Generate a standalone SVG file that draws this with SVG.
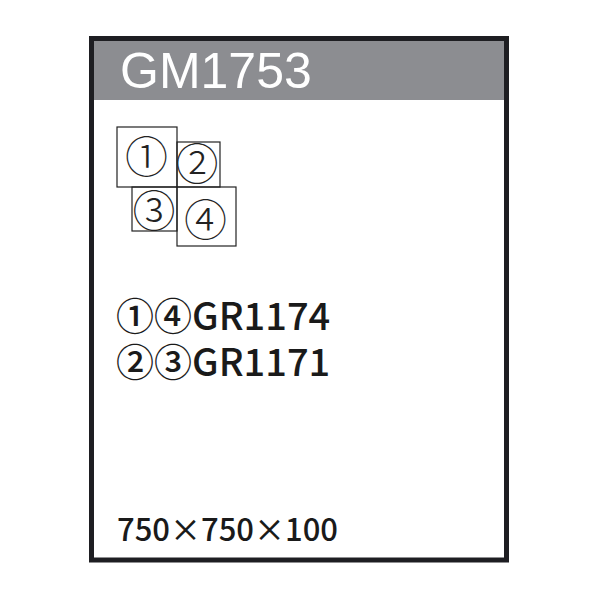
<svg xmlns="http://www.w3.org/2000/svg" width="600" height="600" viewBox="0 0 600 600">
<style>
.box{fill:none;stroke:#222;stroke-width:1.2}
.num{font-family:"Noto Sans CJK JP","DejaVu Sans",sans-serif;fill:#222;text-anchor:middle;font-size:43px;font-weight:300}
.lbl{font-family:"Noto Sans CJK JP","Noto Sans",sans-serif;fill:#1a1a1a;font-weight:500}
</style>
<rect x="0" y="0" width="600" height="600" fill="#ffffff"/>
<g id="frame">
<rect x="91.5" y="38.5" width="415" height="521.5" fill="#ffffff" stroke="#1e1e22" stroke-width="5"/>
<rect x="94" y="41" width="410" height="59" fill="#8c8d91"/>
<text x="120" y="88" font-family="Liberation Sans, Arial, sans-serif" font-size="50" fill="#ffffff">GM1753</text>
</g>
<g id="tile1">
<rect class="box" x="117" y="127" width="60" height="60"/>
<text class="num" x="146.5" y="172.5">①</text>
</g>
<g id="tile2">
<rect class="box" x="177" y="142" width="43" height="45"/>
<text class="num" x="197" y="180">②</text>
</g>
<g id="tile3">
<rect class="box" x="132" y="187" width="45" height="44"/>
<text class="num" x="154" y="227">③</text>
</g>
<g id="tile4">
<rect class="box" x="177" y="187" width="59" height="59"/>
<text class="num" x="205.5" y="236">④</text>
</g>
<g id="labels">
<text class="lbl" x="116" y="330" font-size="38">①④GR1174</text>
<text class="lbl" x="116" y="376" font-size="38">②③GR1171</text>
<text class="lbl" x="117" y="541" font-size="31" font-weight="400">750×750×100</text>
</g>
</svg>
